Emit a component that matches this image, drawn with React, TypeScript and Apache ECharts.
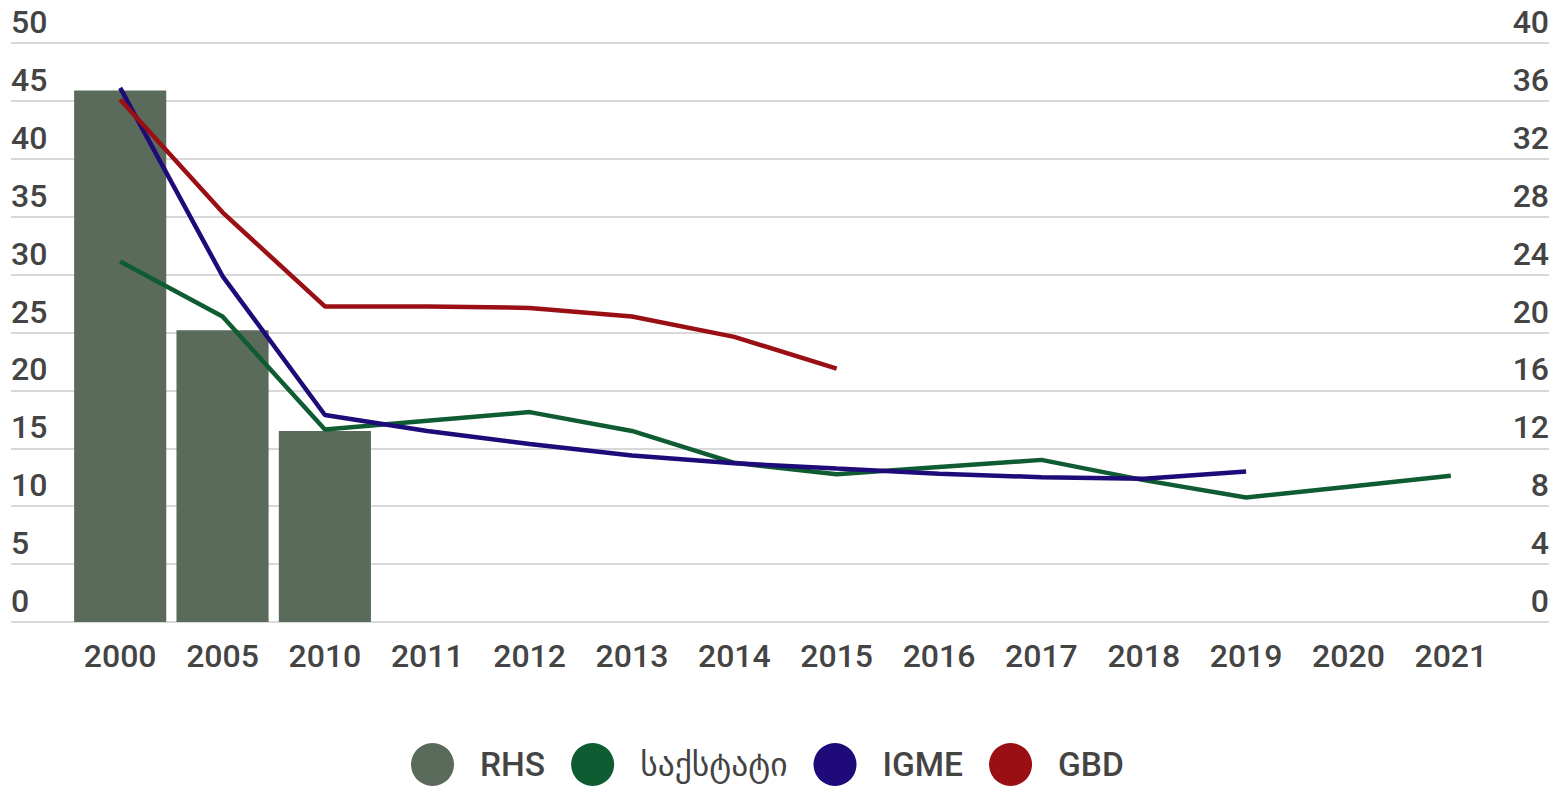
import React, { useEffect, useRef } from "react";
import * as echarts from "echarts";

const years = ["2000", "2005", "2010", "2011", "2012", "2013", "2014", "2015", "2016", "2017", "2018", "2019", "2020", "2021"];
const rhs = [45.9, 25.2, 16.5, null, null, null, null, null, null, null, null, null, null, null];
const geostat = [24.9, 21.1, 13.3, 13.9, 14.5, 13.2, 11.0, 10.2, 10.7, 11.2, 9.8, 8.6, 9.35, 10.1];
const igme = [36.9, 23.9, 14.3, 13.2, 12.3, 11.5, 10.96, 10.6, 10.25, 10.0, 9.9, 10.4, null, null];
const gbd = [36.1, 28.3, 21.8, 21.8, 21.7, 21.1, 19.7, 17.5, null, null, null, null, null, null];
const leftTicks = { min: 0, max: 50, interval: 5 };
const rightTicks = { min: 0, max: 40, interval: 4 };

const FONT = "Roboto, 'DejaVu Sans', sans-serif";
const TXT = "#444444";

export default function App() {
  const ref = useRef<HTMLDivElement>(null);
  useEffect(() => {
    if (!ref.current) return;
    const chart = echarts.init(ref.current, null, { renderer: "svg" });
    const lineS = (name: string, data: any[], color: string) => ({
      name,
      type: "line",
      xAxisIndex: 1,
      yAxisIndex: 3,
      data,
      showSymbol: false,
      symbol: "none",
      lineStyle: { width: 4.5, color },
      itemStyle: { color },
    });
    chart.setOption({
      animation: false,
      textStyle: { fontFamily: FONT },
      grid: [
        { left: 11, right: 7, top: 43, bottom: 164 },
        { left: 69, right: 54, top: 43, bottom: 164 },
      ],
      xAxis: [
        { type: "value", gridIndex: 0, show: false, min: 0, max: 1 },
        {
          type: "category",
          gridIndex: 1,
          data: years,
          axisLine: { show: false },
          axisTick: { show: false },
          axisLabel: { color: TXT, fontSize: 32, fontWeight: 500, fontFamily: FONT, margin: 18 },
        },
      ],
      yAxis: [
        {
          type: "value",
          gridIndex: 0,
          position: "left",
          ...leftTicks,
          axisLine: { show: false },
          axisTick: { show: false },
          splitLine: { lineStyle: { color: "#d9d9d9", width: 2 } },
          axisLabel: {
            inside: true,
            margin: 0,
            align: "left",
            verticalAlign: "bottom",
            padding: [0, 0, 5, 0],
            color: TXT,
            fontSize: 32,
            fontWeight: 500,
            fontFamily: FONT,
          },
        },
        {
          type: "value",
          gridIndex: 0,
          position: "right",
          ...rightTicks,
          axisLine: { show: false },
          axisTick: { show: false },
          splitLine: { show: false },
          axisLabel: {
            inside: true,
            margin: 0,
            align: "right",
            verticalAlign: "bottom",
            padding: [0, 0, 5, 0],
            color: TXT,
            fontSize: 32,
            fontWeight: 500,
            fontFamily: FONT,
          },
        },
        { type: "value", gridIndex: 1, show: false, ...leftTicks },
        { type: "value", gridIndex: 1, show: false, ...rightTicks },
      ],
      legend: {
        top: 743,
        left: 411,
        padding: 0,
        icon: "circle",
        itemWidth: 43,
        itemHeight: 43,
        itemGap: 26,
        textStyle: { color: TXT, fontSize: 33.5, fontWeight: 500, fontFamily: FONT, padding: [0, 0, 0, 21] },
        data: ["RHS", "საქსტატი", "IGME", "GBD"],
      },
      series: [
        {
          name: "RHS",
          type: "bar",
          xAxisIndex: 1,
          yAxisIndex: 2,
          data: rhs,
          barCategoryGap: "10%",
          itemStyle: { color: "#5a6b5b" },
        },
        lineS("საქსტატი", geostat, "#0f5c32"),
        lineS("IGME", igme, "#1e0a78"),
        lineS("GBD", gbd, "#9a0f14"),
      ],
    });
    return () => chart.dispose();
  }, []);
  return <div ref={ref} style={{ width: 1556, height: 786, position: "absolute", left: 0, top: 0 }} />;
}
